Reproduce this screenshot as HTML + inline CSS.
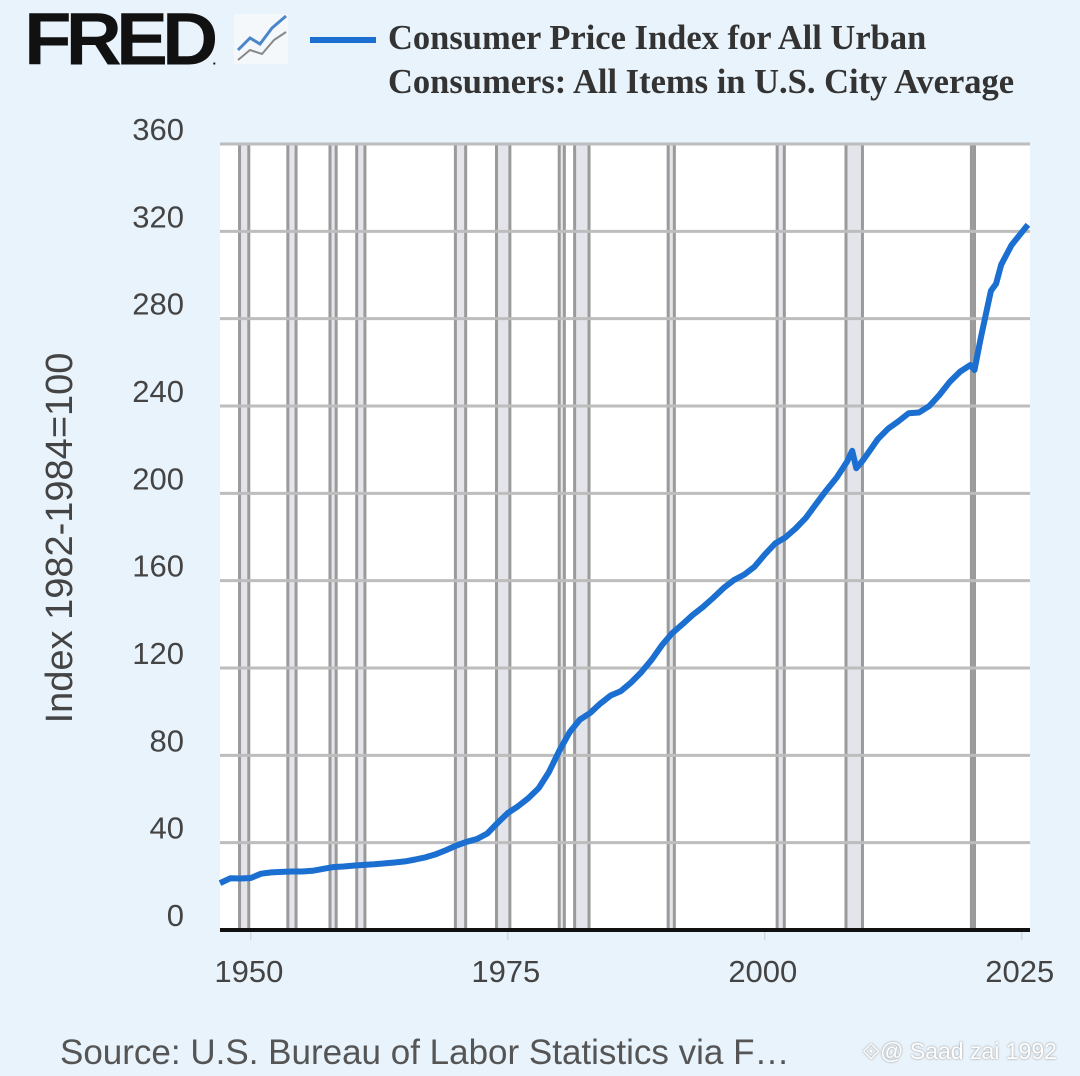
<!DOCTYPE html>
<html><head><meta charset="utf-8">
<style>
html,body{margin:0;padding:0;}
body{width:1080px;height:1076px;background:#e9f3fb;overflow:hidden;position:relative;font-family:"Liberation Sans",sans-serif;}
#logo{position:absolute;left:24px;top:2px;font:900 78px/1 "Liberation Sans",sans-serif;letter-spacing:-6px;color:#111;transform:scaleY(0.95);transform-origin:top left;}
#title{position:absolute;left:388px;top:16px;font:bold 34.5px/44px "Liberation Serif",serif;color:#333;}
#source{position:absolute;left:60px;top:1033px;font-size:35px;color:#555;}
#wm{position:absolute;left:862px;top:1038px;font-size:23px;color:#fff;text-shadow:0 0 2px #888;}
</style></head><body>
<div id="logo">FRED<span style="font-size:14px;letter-spacing:0">.</span></div>
<svg style="position:absolute;left:232px;top:10px" width="60" height="56"><rect x="2" y="4" width="54" height="50" fill="#f4f8fb"/><polyline points="6,40 18,28 28,34 40,18 54,6" fill="none" stroke="#4a86c8" stroke-width="3"/><polyline points="6,50 18,40 30,44 42,30 54,22" fill="none" stroke="#888" stroke-width="2"/></svg>
<svg style="position:absolute;left:300px;top:30px" width="80" height="20"><line x1="10" y1="10" x2="76" y2="10" stroke="#1a6fd0" stroke-width="6"/></svg>
<div id="title">Consumer Price Index for All Urban<br>Consumers: All Items in U.S. City Average</div>
<svg id="chart" width="1080" height="1076" style="position:absolute;left:0;top:0"></svg>
<div id="source">Source: U.S. Bureau of Labor Statistics via F…</div>
<div id="wm">⟐@ Saad zai 1992</div>
<script>
const yTicks=[0,40,80,120,160,200,240,280,320,360];
const xTicks=[1950,1975,2000,2025];
const recStart=[1948.9,1953.6,1957.7,1960.3,1969.9,1973.9,1980.0,1981.5,1990.6,2001.2,2007.9,2020.1];
const recEnd=[1949.8,1954.4,1958.3,1961.1,1970.9,1975.2,1980.5,1982.9,1991.2,2001.9,2009.5,2020.4];
const years=[1947,1948,1949,1950,1951,1952,1953,1954,1955,1956,1957,1958,1959,1960,1961,1962,1963,1964,1965,1966,1967,1968,1969,1970,1971,1972,1973,1974,1975,1976,1977,1978,1979,1980,1981,1982,1983,1984,1985,1986,1987,1988,1989,1990,1991,1992,1993,1994,1995,1996,1997,1998,1999,2000,2001,2002,2003,2004,2005,2006,2007,2008,2008.5,2008.9,2009.5,2010,2011,2012,2013,2014,2015,2016,2017,2018,2019,2020,2020.4,2021,2022,2022.5,2023,2024,2025.6];
const cpi=[21.5,23.7,23.6,23.8,25.8,26.4,26.6,26.8,26.8,27.1,28.0,28.8,29.1,29.5,29.8,30.1,30.5,30.9,31.4,32.3,33.3,34.7,36.6,38.7,40.4,41.7,44.2,49.0,53.6,56.7,60.4,65.0,72.3,82.0,90.5,96.3,99.4,103.7,107.4,109.4,113.4,118.1,123.8,130.5,136.0,140.1,144.3,148.0,152.2,156.7,160.3,162.8,166.4,172.0,177.0,179.8,183.9,188.8,195.2,201.5,207.3,214.5,219.5,211.5,214.8,218.1,224.9,229.6,233.0,236.7,237.0,240.0,245.1,251.1,255.7,258.8,256.5,271.0,292.7,296.0,304.7,313.7,323.0];
const L=220,R=1030,T=144,B=930,x0=1947,x1=2025.8;
const X=v=>L+(v-x0)/(x1-x0)*(R-L);
const Y=v=>B-v/360*(B-T);
const NS="http://www.w3.org/2000/svg";
const svg=document.getElementById('chart');
function mk(t,a){const e=document.createElementNS(NS,t);for(const k in a)e.setAttribute(k,a[k]);svg.appendChild(e);return e;}
const bg=mk('rect',{x:L,y:T,width:R-L,height:B-T,fill:'#fff'});


recStart.forEach((s,i)=>{
  const r=mk('rect',{x:X(s),y:T,width:Math.max(X(recEnd[i])-X(s),3),height:B-T,fill:'#e3e5ea',stroke:'#9a9a9a','stroke-width':3});
  
  
});
yTicks.forEach(v=>{
  if(v>0){const g=mk('line',{x1:L,x2:R,y1:Y(v),y2:Y(v),stroke:'#bdbdbd','stroke-width':3});
  
  }
  const t=mk('text',{x:184,y:Y(v)-4,'text-anchor':'end','font-size':31,fill:'#444','font-family':'Liberation Sans, sans-serif'});
  t.textContent=v;
  
  
});
xTicks.forEach(v=>{
  const tk=mk('line',{x1:X(v),x2:X(v),y1:B,y2:B+10,stroke:'#ccc','stroke-width':1});
  
  
  const t=mk('text',{x:X(v)-2,y:B+52,'text-anchor':'middle','font-size':31,fill:'#444','font-family':'Liberation Sans, sans-serif'});
  t.textContent=v;
  
  
});
const ax=mk('line',{x1:L,x2:R,y1:B,y2:B,stroke:'#111','stroke-width':4});


const yt=mk('text',{x:0,y:0,transform:'translate(72,538) rotate(-90)','text-anchor':'middle','font-size':38,fill:'#444','font-family':'Liberation Sans, sans-serif'});
yt.textContent='Index 1982-1984=100';


const pl=mk('polyline',{points:years.map((y,i)=>X(y).toFixed(1)+','+Y(cpi[i]).toFixed(1)).join(' '),fill:'none',stroke:'#1a6fd0','stroke-width':6,'stroke-linejoin':'round'});


</script>
</body></html>
